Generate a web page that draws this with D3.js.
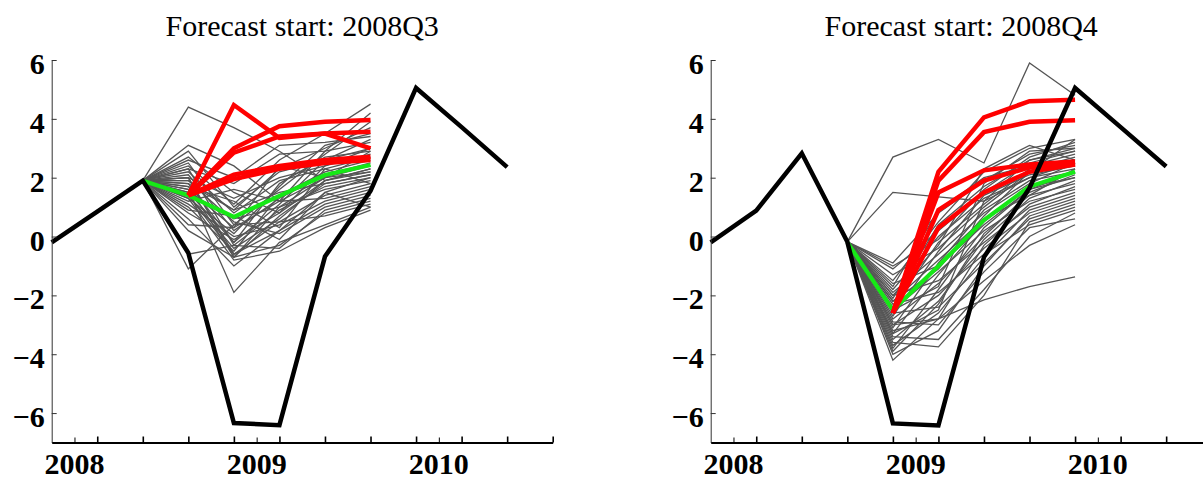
<!DOCTYPE html>
<html>
<head>
<meta charset="utf-8">
<script src="https://cdn.jsdelivr.net/npm/d3@7"></script>
<style>
  html, body { margin: 0; padding: 0; background: #fff; }
  svg { display: block; }
  .title { font-family: "Liberation Serif", "Times New Roman", serif; font-size: 30px; }
  .tick text, .year { font-family: "Liberation Serif", "Times New Roman", serif; font-size: 30px; font-weight: bold; fill: #000; }
</style>
</head>
<body>
<div id="chart"></div>
<script>
// quarters on the x axis, index 0..11
const quarters = ['2007Q4', '2008Q1', '2008Q2', '2008Q3', '2008Q4', '2009Q1',
                  '2009Q2', '2009Q3', '2009Q4', '2010Q1', '2010Q2', '2010Q3'];
const yTicks = [-6, -4, -2, 0, 2, 4, 6];

// realised series (black), one vintage per panel
const actualQ3 = [-0.2, 0.85, 1.9, -0.56, -6.34, -6.41, -0.68, 1.55, 5.05, 3.72, 2.36];
const actualQ4 = [-0.2, 0.88, 2.83, -0.18, -6.35, -6.42, -0.7, 1.65, 5.05, 3.72, 2.38];

// individual forecast paths (grey), 5 quarters after the jump-off point
const grayQ3 = [
  [4.4, 3.7, 2.9, 1.9, 2.3], [3.1, 2.4, 1.2, 2.0, 2.9], [2.9, 1.0, 2.2, 2.6, 3.3],
  [2.7, 1.5, 0.8, 1.9, 2.2], [2.5, 0.4, 1.6, 2.8, 3.9], [2.4, 1.1, 2.6, 3.5, 4.5],
  [2.3, -0.3, 0.9, 1.7, 2.0], [2.2, 0.8, 1.9, 2.3, 2.7], [2.1, 0.2, 1.3, 2.1, 2.5],
  [2.0, -0.6, 0.5, 1.4, 1.8], [2.0, 1.3, 2.0, 2.4, 2.8], [1.9, 0.5, 0.1, 1.0, 1.4],
  [1.8, -0.2, 1.1, 2.6, 3.0], [1.8, 0.9, 1.5, 1.8, 2.1], [1.7, -0.7, -0.3, 0.8, 1.2],
  [1.6, 0.3, 2.4, 2.0, 2.4], [1.6, -1.9, -0.2, 0.4, 1.0], [1.5, 0.6, 1.0, 1.6, 1.9],
  [1.4, -0.4, 0.6, 1.9, 2.3], [1.3, 0.1, 1.7, 3.1, 3.5], [1.3, -0.8, -0.5, 0.3, 0.9],
  [1.2, 1.6, 1.2, 2.9, 3.2], [1.1, 0.0, 0.4, 1.2, 1.6], [1.0, -0.5, 1.4, 2.2, 2.6],
  [0.9, 0.7, -0.1, 1.5, 2.0], [0.8, -0.1, 0.8, 2.4, 3.0], [0.6, -1.0, 0.2, 1.1, 1.5],
  [0.4, 0.3, 1.2, 1.3, 1.7], [0.2, -0.7, 0.7, 1.8, 2.1], [-0.6, -0.3, -0.4, 0.9, 1.3],
  [-1.1, 0.4, 0.5, 0.7, 1.1], [2.6, 2.0, 3.1, 3.2, 3.4], [2.3, 1.8, 2.8, 2.9, 4.2],
  [1.9, 0.9, 2.3, 3.0, 3.7], [1.5, -0.2, 1.8, 2.7, 2.9], [1.7, 1.2, 0.3, 2.3, 1.8],
  [1.4, -0.6, 0.2, 1.5, 1.0], [2.0, -0.7, 1.0, 2.0, 2.2]
];
const grayQ4 = [
  [2.7, 3.3, 2.5, 5.9, 4.8], [1.5, 1.35, 1.2, 2.6, 2.9], [-0.9, 0.8, 1.9, 2.8, 3.1],
  [-1.1, 0.2, 1.5, 2.5, 2.9], [-1.3, -0.4, 1.0, 2.2, 2.6], [-1.5, 0.5, 2.2, 3.0, 3.3],
  [-1.6, -1.0, 0.4, 1.6, 2.0], [-1.8, 0.0, 1.3, 2.0, 2.3], [-1.9, -0.6, 0.8, 1.8, 2.5],
  [-2.0, -1.5, -0.2, 1.0, 1.5], [-2.1, 0.4, 1.7, 2.6, 3.0], [-2.2, -0.8, 0.6, 1.4, 1.8],
  [-2.3, -1.9, -0.6, 0.4, 0.9], [-2.4, -0.2, 1.1, 2.3, 2.7], [-2.5, -1.2, 0.2, 1.2, 1.6],
  [-2.6, -2.4, -0.9, 0.6, 1.1], [-2.7, -0.5, 1.4, 2.1, 2.4], [-2.8, -1.6, 0.0, 1.5, 2.1],
  [-2.9, -3.0, -1.2, 0.3, 0.6], [-3.0, -2.0, -0.4, 0.8, 1.3], [-3.1, -0.9, 0.9, 1.9, 2.2],
  [-3.2, -2.8, -1.5, -0.3, 0.4], [-3.3, -1.3, 0.5, 1.7, 2.0], [-3.4, -3.5, -1.8, 0.0, 0.8],
  [-3.5, -2.2, -0.1, 1.3, 1.9], [-3.6, -3.75, -2.0, 0.5, 1.0], [-3.7, -2.6, -0.7, 0.9, 1.4],
  [-3.8, -1.8, 0.3, 1.6, 2.2], [-4.0, -3.2, -1.0, 0.7, 1.2], [-4.2, -2.8, -0.3, 1.1, 1.7],
  [-3.0, -2.8, -2.15, -1.7, -1.37], [-1.0, -0.1, 1.6, 2.7, 3.2], [-1.7, 0.9, 2.0, 2.4, 2.8],
  [-2.5, -1.7, 1.8, 2.9, 3.0], [-3.3, -2.5, 1.2, 2.0, 2.5], [-2.0, -0.3, 2.3, 3.1, 2.6],
  [-2.2, -1.1, 0.7, 2.2, 3.3], [-3.9, -2.3, 0.1, 1.4, 2.3]
];

// highlighted paths (red), starting at the first forecast quarter
const redQ3 = [
  [1.4, 4.47, 3.35, 3.5, 3.0], [1.4, 3.0, 3.75, 3.9, 3.96], [1.4, 2.85, 3.4, 3.5, 3.56],
  [1.4, 2.1, 2.4, 2.6, 2.71], [1.4, 1.95, 2.3, 2.5, 2.6]
];
const redQ4 = [
  [-2.6, 2.2, 4.05, 4.6, 4.65], [-2.6, 1.9, 3.55, 3.9, 3.95], [-2.6, 1.5, 2.25, 2.45, 2.55],
  [-2.6, 0.9, 1.9, 2.35, 2.5], [-2.6, 0.3, 1.5, 2.2, 2.45]
];

// consensus path (green), from the jump-off point
const greenQ3 = [1.9, 1.4, 0.67, 1.38, 2.09, 2.43];
const greenQ4 = [-0.2, -2.5, -1.0, 0.56, 1.7, 2.2];

const panels = [
  { title: 'Forecast start: 2008Q3', start: '2008Q3', left: 51.7, actual: actualQ3, gray: grayQ3, red: redQ3, green: greenQ3 },
  { title: 'Forecast start: 2008Q4', start: '2008Q4', left: 710.7, actual: actualQ4, gray: grayQ4, red: redQ4, green: greenQ4 }
];

const W = 1203, H = 479, plotW = 501, plotTop = 60, plotBottom = 442.5;

const svg = d3.select('#chart').append('svg').attr('width', W).attr('height', H);
svg.append('rect').attr('width', W).attr('height', H).attr('fill', '#fff');

const years = quarters
  .map(function (q, i) { return { q: q, i: i }; })
  .filter(function (d) { return d.q.slice(4) === 'Q1'; })
  .map(function (d) { return { label: d.q.slice(0, 4), pos: d.i - 0.5 }; });

panels.forEach(function (p) {
  const x = d3.scaleLinear().domain([0, quarters.length - 1]).range([p.left, p.left + plotW]);
  const y = d3.scaleLinear().domain([-7, 6]).range([plotBottom, plotTop]);
  const g = svg.append('g');

  const s = quarters.indexOf(p.start);   // first forecast quarter
  const jump = s - 1;                     // jump-off quarter

  const line = function (start) {
    return d3.line().x(function (d, i) { return x(start + i); }).y(function (d) { return y(d); });
  };

  // grey paths
  g.append('g').selectAll('path').data(p.gray).enter().append('path')
    .attr('d', function (d) { return line(jump)([p.actual[jump]].concat(d)); })
    .attr('fill', 'none').attr('stroke', '#555').attr('stroke-width', 1.3);

  // green
  g.append('path').attr('d', line(jump)(p.green))
    .attr('fill', 'none').attr('stroke', '#16e816').attr('stroke-width', 4.2);

  // red
  g.append('g').selectAll('path').data(p.red).enter().append('path')
    .attr('d', function (d) { return line(s)(d); })
    .attr('fill', 'none').attr('stroke', '#ff0000').attr('stroke-width', 4.5);

  // actual
  g.append('path').attr('d', line(0)(p.actual))
    .attr('fill', 'none').attr('stroke', '#000').attr('stroke-width', 4.5);

  // y axis, ticks pointing inward
  const ya = g.append('g').attr('transform', 'translate(' + p.left + ',0)')
    .call(d3.axisLeft(y).tickValues(yTicks).tickSizeInner(-5).tickSizeOuter(0).tickPadding(7));
  ya.attr('font-size', null).attr('font-family', null);
  ya.select('.domain').attr('stroke', '#333').attr('stroke-width', 1);
  ya.selectAll('.tick line').attr('stroke', '#333');
  ya.selectAll('.tick text').attr('dy', '0.45em');

  // x axis: quarterly major ticks, year-boundary minor ticks
  const majors = d3.range(1, quarters.length);
  const xa = g.append('g').attr('transform', 'translate(0,' + plotBottom + ')')
    .call(d3.axisBottom(x).tickValues(majors).tickSizeInner(-6).tickSizeOuter(0).tickFormat(''));
  xa.select('.domain').attr('stroke', '#000').attr('stroke-width', 2);
  xa.selectAll('.tick line').attr('stroke', '#000').attr('stroke-width', 1.6);

  const xm = g.append('g').attr('transform', 'translate(0,' + plotBottom + ')')
    .call(d3.axisBottom(x).tickValues(years.map(function (d) { return d.pos; }))
      .tickSizeInner(-5).tickSizeOuter(0).tickFormat(''));
  xm.select('.domain').remove();
  xm.selectAll('.tick line').attr('stroke', '#000').attr('stroke-width', 1);

  g.selectAll('text.year').data(years).enter().append('text')
    .attr('class', 'year')
    .attr('x', function (d) { return x(d.pos); })
    .attr('y', 474)
    .attr('text-anchor', 'middle')
    .text(function (d) { return d.label; });

  g.append('text').attr('class', 'title')
    .attr('x', p.left + plotW / 2).attr('y', 36)
    .attr('text-anchor', 'middle')
    .text(p.title);
});
</script>
</body>
</html>
